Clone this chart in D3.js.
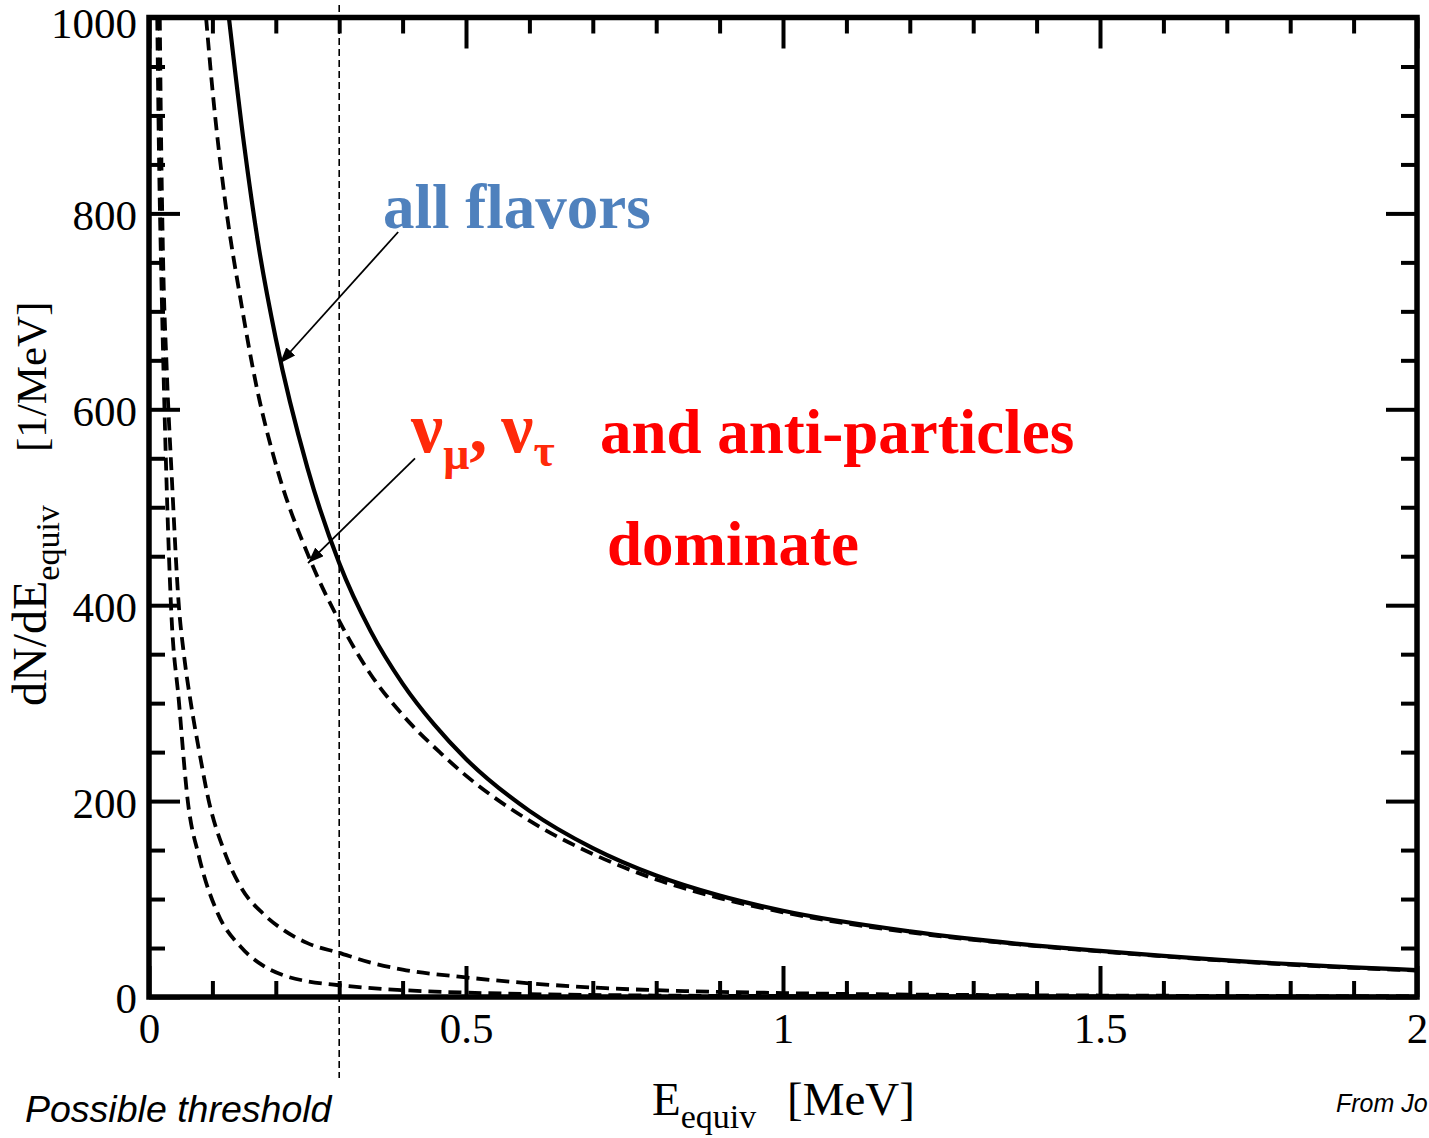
<!DOCTYPE html>
<html>
<head>
<meta charset="utf-8">
<script src="https://cdn.jsdelivr.net/npm/d3@7"></script>
<style>
  html, body { margin: 0; padding: 0; background: #fff; }
  svg { display: block; }
</style>
</head>
<body>
<svg id="chart" width="1429" height="1138"></svg>
<script>
// Equivalent-energy spectra: dN/dE_equiv [1/MeV] vs E_equiv [MeV]

// all flavors (solid)
const allFlavorsE = [0.126, 0.15, 0.172, 0.2, 0.25, 0.3, 0.35, 0.4, 0.45, 0.5, 0.6, 0.7, 0.8, 0.9, 1.0, 1.2, 1.4, 1.5, 1.6, 1.8, 2.0];
const allFlavorsV = [1000, 870, 770, 672, 540, 443, 373, 320, 278, 243, 190, 152, 124, 103.5, 88, 67, 52.5, 47, 42, 33.5, 27.5];

// nu_mu, nu_tau and anti-particles (dashed, upper)
const muTauE = [0.09, 0.1, 0.12, 0.145, 0.17, 0.2, 0.255, 0.3, 0.35, 0.4, 0.46, 0.5, 0.6, 0.7, 0.8, 0.9, 1.0, 1.2, 1.4, 1.5, 1.6, 1.8, 2.0];
const muTauV = [1000, 927, 813, 710, 622, 544, 445, 384, 329, 288, 249, 226, 180, 146, 120, 101, 86.5, 66, 52, 46.5, 41.5, 33, 27];

// low-energy components (dashed)
const lowAE = [0.017, 0.019, 0.022, 0.028, 0.036, 0.047, 0.055, 0.066, 0.08, 0.094, 0.118, 0.145, 0.18, 0.213, 0.25, 0.3, 0.35, 0.4, 0.5, 0.6, 0.72, 0.85, 1.0, 1.2, 1.5, 2.0];
const lowAV = [1000, 880, 760, 640, 530, 400, 350, 300, 248, 201, 150, 112, 85, 68, 55, 45, 35, 28, 20, 14, 9, 6, 4, 2.5, 1.5, 0.8];

const lowBE = [0.013, 0.016, 0.02, 0.027, 0.035, 0.047, 0.061, 0.079, 0.108, 0.145, 0.18, 0.213, 0.25, 0.3, 0.4, 0.5, 0.6, 0.8, 1.0, 1.5, 2.0];
const lowBV = [1000, 850, 720, 540, 395, 303, 201, 143, 86, 51, 32, 22, 16, 12, 7, 4.5, 3, 1.5, 1, 0.5, 0.3];

// axis ticks
const xMajorTicks = [0, 0.5, 1, 1.5, 2];
const xMinorTicks = d3.range(0, 2.0001, 0.1).map(v => +v.toFixed(2)).filter(v => !xMajorTicks.includes(v));
const yMajorTicks = [0, 200, 400, 600, 800, 1000];
const yMinorTicks = d3.range(0, 1001, 50).filter(v => !yMajorTicks.includes(v));

const thresholdE = 0.3;

const svg = d3.select("#chart");
const x = d3.scaleLinear().domain([0, 2]).range([149, 1417]);
const y = d3.scaleLinear().domain([0, 1000]).range([997, 17.5]);

const serif = "'Liberation Serif', 'Times New Roman', serif";
const sans = "'Liberation Sans', Arial, sans-serif";

const defs = svg.append("defs");
defs.append("clipPath").attr("id", "plotClip")
  .append("rect")
  .attr("x", x(0)).attr("y", y(1000))
  .attr("width", x(2) - x(0)).attr("height", y(0) - y(1000));

defs.append("marker")
  .attr("id", "arrowHead")
  .attr("markerUnits", "userSpaceOnUse")
  .attr("viewBox", "0 0 16 12")
  .attr("refX", 16).attr("refY", 6)
  .attr("markerWidth", 16).attr("markerHeight", 12)
  .attr("orient", "auto")
  .append("path").attr("d", "M0,0 L16,6 L0,12 Z").attr("fill", "#000");

// tick marks, drawn inward on all four sides
const MAJOR = 31, MINOR = 16;
function styleAxis(g) {
  g.select(".domain").remove();
  g.selectAll(".tick line").attr("stroke", "#000").attr("stroke-width", 4);
}
function addAxis(axis, transform, labels) {
  const g = svg.append("g").attr("transform", transform).call(axis);
  styleAxis(g);
  if (!labels) g.selectAll(".tick text").remove();
  return g;
}

const noFmt = () => "";
addAxis(d3.axisBottom(x).tickValues(xMinorTicks).tickSize(-MINOR).tickFormat(noFmt), `translate(0,${y(0)})`, false);
addAxis(d3.axisTop(x).tickValues(xMinorTicks).tickSize(-MINOR).tickFormat(noFmt), `translate(0,${y(1000)})`, false);
addAxis(d3.axisTop(x).tickValues(xMajorTicks).tickSize(-MAJOR).tickFormat(noFmt), `translate(0,${y(1000)})`, false);
addAxis(d3.axisLeft(y).tickValues(yMinorTicks).tickSize(-MINOR).tickFormat(noFmt), `translate(${x(0)},0)`, false);
addAxis(d3.axisRight(y).tickValues(yMinorTicks).tickSize(-MINOR).tickFormat(noFmt), `translate(${x(2)},0)`, false);
addAxis(d3.axisRight(y).tickValues(yMajorTicks).tickSize(-MAJOR).tickFormat(noFmt), `translate(${x(2)},0)`, false);

const xAxisG = addAxis(d3.axisBottom(x).tickValues(xMajorTicks).tickSize(-MAJOR).tickPadding(15).tickFormat(d => String(d)), `translate(0,${y(0)})`, true);
xAxisG.selectAll(".tick text").attr("font-family", serif).attr("font-size", 43).attr("fill", "#000");

const yAxisG = addAxis(d3.axisLeft(y).tickValues(yMajorTicks).tickSize(-MAJOR).tickPadding(12).tickFormat(d => String(d)), `translate(${x(0)},0)`, true);
yAxisG.selectAll(".tick text")
  .attr("font-family", serif).attr("font-size", 43).attr("fill", "#000")
  // the topmost label sits a little lower so it stays inside the page
  .attr("dy", d => d === 1000 ? "0.47em" : "0.37em");

// spectra
const plot = svg.append("g").attr("clip-path", "url(#plotClip)");
const line = d3.line().x(d => x(d[0])).y(d => y(d[1])).curve(d3.curveMonotoneX);
const zip = (e, v) => e.map((d, i) => [d, v[i]]);

const series = [
  { data: zip(lowBE, lowBV), dash: "13,7", width: 3.8 },
  { data: zip(lowAE, lowAV), dash: "13,7", width: 3.8 },
  { data: zip(muTauE, muTauV), dash: "13,7", width: 3.8 },
  { data: zip(allFlavorsE, allFlavorsV), dash: null, width: 4.2 }
];
series.forEach(s => {
  plot.append("path")
    .attr("d", line(s.data))
    .attr("fill", "none")
    .attr("stroke", "#000")
    .attr("stroke-width", s.width)
    .attr("stroke-dasharray", s.dash);
});

// frame
svg.append("rect")
  .attr("x", x(0)).attr("y", y(1000))
  .attr("width", x(2) - x(0)).attr("height", y(0) - y(1000))
  .attr("fill", "none").attr("stroke", "#000").attr("stroke-width", 5.5);

// threshold marker
svg.append("line")
  .attr("x1", x(thresholdE)).attr("x2", x(thresholdE))
  .attr("y1", 5).attr("y2", 1078)
  .attr("stroke", "#000").attr("stroke-width", 1.6)
  .attr("stroke-dasharray", "7,4");

// arrows pointing at the curves
const arrows = [
  { from: [0.393, 781], to: [0.2066, 647] },
  { from: [0.4196, 550], to: [0.2508, 443] }
];
arrows.forEach(a => {
  svg.append("line")
    .attr("x1", x(a.from[0])).attr("y1", y(a.from[1]))
    .attr("x2", x(a.to[0])).attr("y2", y(a.to[1]))
    .attr("stroke", "#000").attr("stroke-width", 1.8)
    .attr("marker-end", "url(#arrowHead)");
});

// annotations
svg.append("text")
  .attr("x", 383).attr("y", 228)
  .attr("font-family", serif).attr("font-weight", "bold").attr("font-size", 63)
  .attr("fill", "#4F81BD")
  .text("all flavors");

const nu = svg.append("text")
  .attr("x", 411).attr("y", 452)
  .attr("font-family", serif).attr("font-weight", "bold").attr("font-size", 72)
  .attr("fill", "#FF2A0A");
nu.append("tspan").text("ν");
nu.append("tspan").attr("font-size", 46).attr("dy", 17).text("μ");
nu.append("tspan").attr("dy", -17).text(",");
nu.append("tspan").attr("dx", 14).text("ν");
nu.append("tspan").attr("font-size", 46).attr("dy", 14).text("τ");

svg.append("text")
  .attr("x", 600).attr("y", 453)
  .attr("font-family", serif).attr("font-weight", "bold").attr("font-size", 63)
  .attr("fill", "#FF0000")
  .text("and anti-particles");

svg.append("text")
  .attr("x", 607).attr("y", 565)
  .attr("font-family", serif).attr("font-weight", "bold").attr("font-size", 63)
  .attr("fill", "#FF0000")
  .text("dominate");

// axis titles
const xt = svg.append("text")
  .attr("x", 652).attr("y", 1115)
  .attr("font-family", serif).attr("font-size", 47).attr("fill", "#000");
xt.append("tspan").text("E");
xt.append("tspan").attr("font-size", 34).attr("dy", 13).text("equiv");
xt.append("tspan").attr("x", 787).attr("dy", -13).text("[MeV]");

const yt = svg.append("text")
  .attr("transform", "translate(46,706) rotate(-90)")
  .attr("font-family", serif).attr("font-size", 48).attr("fill", "#000");
yt.append("tspan").text("dN/dE");
yt.append("tspan").attr("font-size", 34).attr("dy", 13).text("equiv");
yt.append("tspan").attr("x", 254).attr("dy", -13).attr("font-size", 43).text("[1/MeV]");

svg.append("text")
  .attr("x", 25).attr("y", 1122)
  .attr("font-family", sans).attr("font-style", "italic").attr("font-size", 37.5)
  .attr("fill", "#000")
  .text("Possible threshold");

svg.append("text")
  .attr("x", 1336).attr("y", 1112)
  .attr("font-family", sans).attr("font-style", "italic").attr("font-size", 25)
  .attr("fill", "#000")
  .text("From Jo");
</script>
</body>
</html>
